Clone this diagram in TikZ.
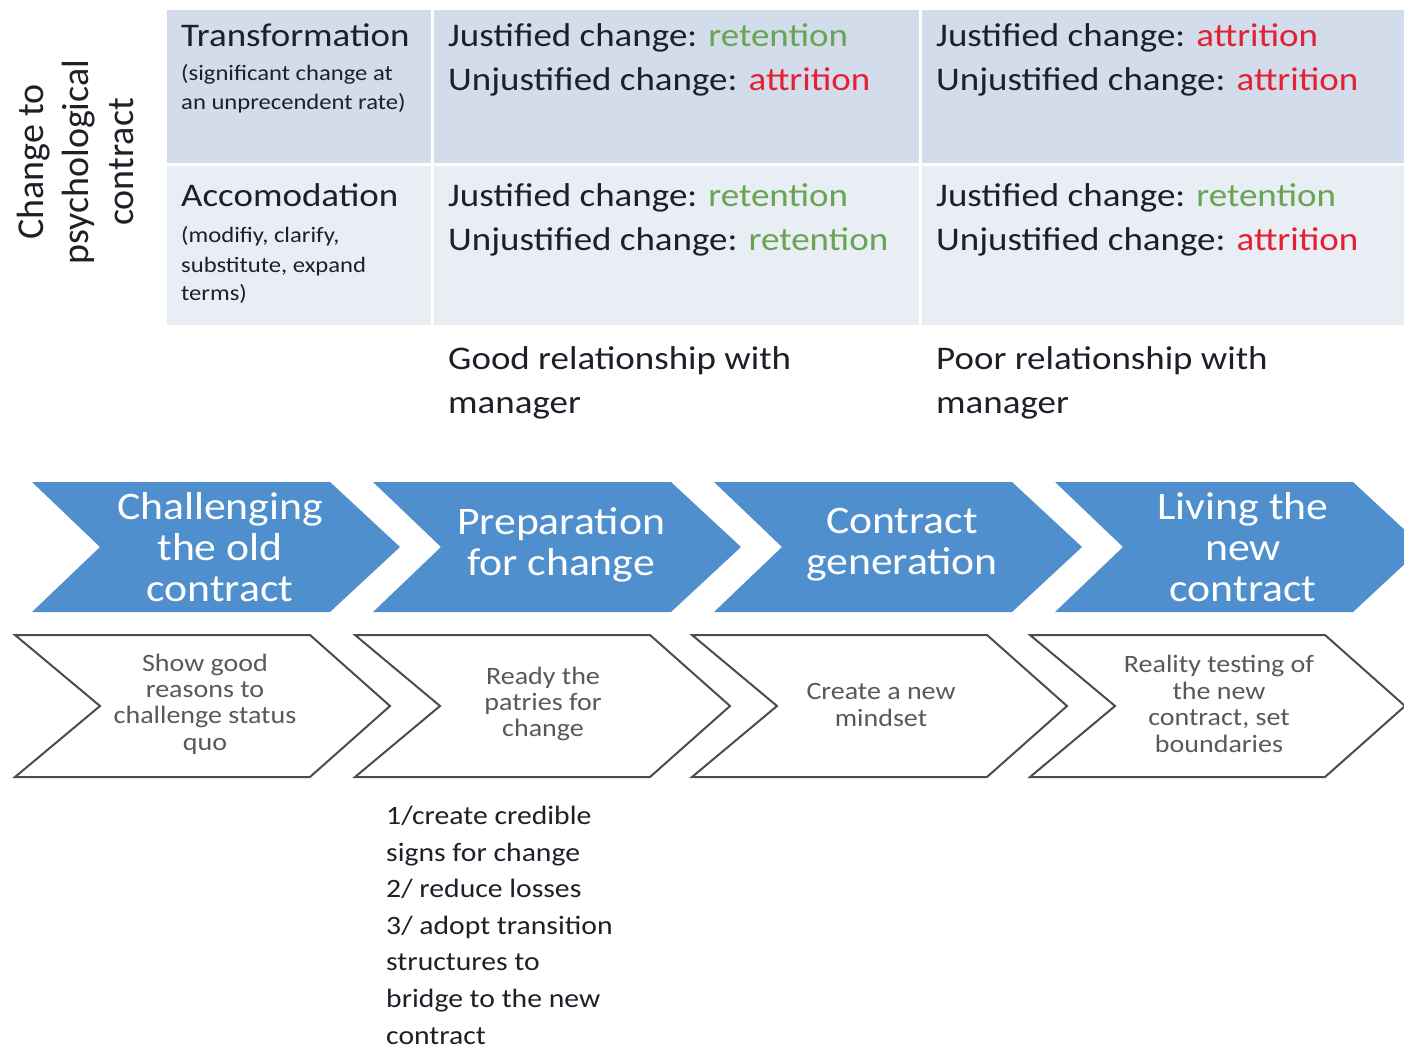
\documentclass[tikz,border=0pt]{standalone}
\usepackage{fontspec}
\setmainfont{Carlito}[FakeStretch=1.12]
\newfontfamily\sidefont{Carlito}
\definecolor{chevblue}{RGB}{79,143,206}
\definecolor{rowdark}{RGB}{210,220,235}
\definecolor{rowlight}{RGB}{233,237,244}
\definecolor{keep}{RGB}{104,165,82}
\definecolor{lose}{RGB}{228,32,52}
\definecolor{steptext}{RGB}{89,89,89}
\definecolor{ink}{RGB}{30,32,40}
\tikzset{
    bluechev/.pic = {
    \fill[chevblue] (0,0) -- (298,0) -- (368,65) -- (298,130) -- (0,130) -- (68,65) -- cycle;
    },
    greychev/.pic = {
    \draw[line width=2pt, draw=steptext!85!black, fill=white, line join=miter] (0,0) -- (295,0) -- (375,71) -- (295,142) -- (0,142) -- (85,71) -- cycle;
    },
    big/.style = {font=\fontsize{33}{44}\selectfont, text=ink, inner sep=0pt},
    note/.style = {font=\fontsize{22}{29}\selectfont, text=ink, inner sep=0pt, align=left},
    phase/.style = {font=\fontsize{39}{41}\selectfont, text=white, align=center, inner sep=0pt},
    task/.style = {font=\fontsize{25}{26.4}\selectfont, text=steptext, align=center, inner sep=0pt}
}
\begin{document}
\begin{tikzpicture}[x=1pt,y=-1pt, line cap=round, line join=round]
	\useasboundingbox (0,0) rectangle (1404,1048);
	% table
	\fill[rowdark] (167,10) rectangle (1404,165);
	\fill[rowlight] (167,165) rectangle (1404,325);
	\draw[white, line width=3pt] (167,165) -- (1404,165);
	\draw[white, line width=3pt] (432,10) -- (432,325);
	\draw[white, line width=3pt] (920,10) -- (920,325);
	\node[big, rotate=90, align=center, font=\sidefont\fontsize{38}{45}\selectfont] (axis) at (75,162) {Change to\\psychological\\contract};
	\node[big, anchor=base west] (trans) at (181,47) {Transformation};
	\node[note, anchor=base west] (transnote) at (181,110) {(significant change at\\an unprecendent rate)};
	\node[big, anchor=base west] (accom) at (181,207) {Accomodation};
	\node[note, anchor=base west] (accomnote) at (181,301) {(modifiy, clarify,\\substitute, expand\\terms)};
	\node[big, anchor=base west, align=left] (goodtrans) at (448,91) {Justified change: \textcolor{keep}{retention}\\Unjustified change: \textcolor{lose}{attrition}};
	\node[big, anchor=base west, align=left] (poortrans) at (936,91) {Justified change: \textcolor{lose}{attrition}\\Unjustified change: \textcolor{lose}{attrition}};
	\node[big, anchor=base west, align=left] (goodaccom) at (448,251) {Justified change: \textcolor{keep}{retention}\\Unjustified change: \textcolor{keep}{retention}};
	\node[big, anchor=base west, align=left] (pooraccom) at (936,251) {Justified change: \textcolor{keep}{retention}\\Unjustified change: \textcolor{lose}{attrition}};
	\node[big, anchor=base west, align=left] (good) at (448,413) {Good relationship with\\manager};
	\node[big, anchor=base west, align=left] (poor) at (936,413) {Poor relationship with\\manager};
	% phases
	\path (32,482) pic {bluechev};
	\path (373,482) pic {bluechev};
	\path (714,482) pic {bluechev};
	\path (1055,482) pic {bluechev};
	\node[phase] (challenge) at (220,547) {Challenging\\the old\\contract};
	\node[phase] (prepare) at (561,545) {Preparation\\for change};
	\node[phase] (generate) at (902,545) {Contract\\generation};
	\node[phase] (living) at (1243,547) {Living the\\new\\contract};
	% steps
	\path (15,635) pic {greychev};
	\path (355,635) pic {greychev};
	\path (692,635) pic {greychev};
	\path (1030,635) pic {greychev};
	\node[task] (reasons) at (205,704) {Show good\\reasons to\\challenge status\\quo};
	\node[task] (ready) at (543,704) {Ready the\\patries for\\change};
	\node[task] (mindset) at (881,705) {Create a new\\mindset};
	\node[task] (testing) at (1219,704) {Reality testing of\\the new\\contract, set\\boundaries};
	\node[font=\fontsize{26.5}{36.6}\selectfont, text=ink, inner sep=0pt, anchor=base west, align=left] (actions) at (386,1044) {1/create credible\\signs for change\\2/ reduce losses\\3/ adopt transition\\structures to\\bridge to the new\\contract};
\end{tikzpicture}
\end{document}
